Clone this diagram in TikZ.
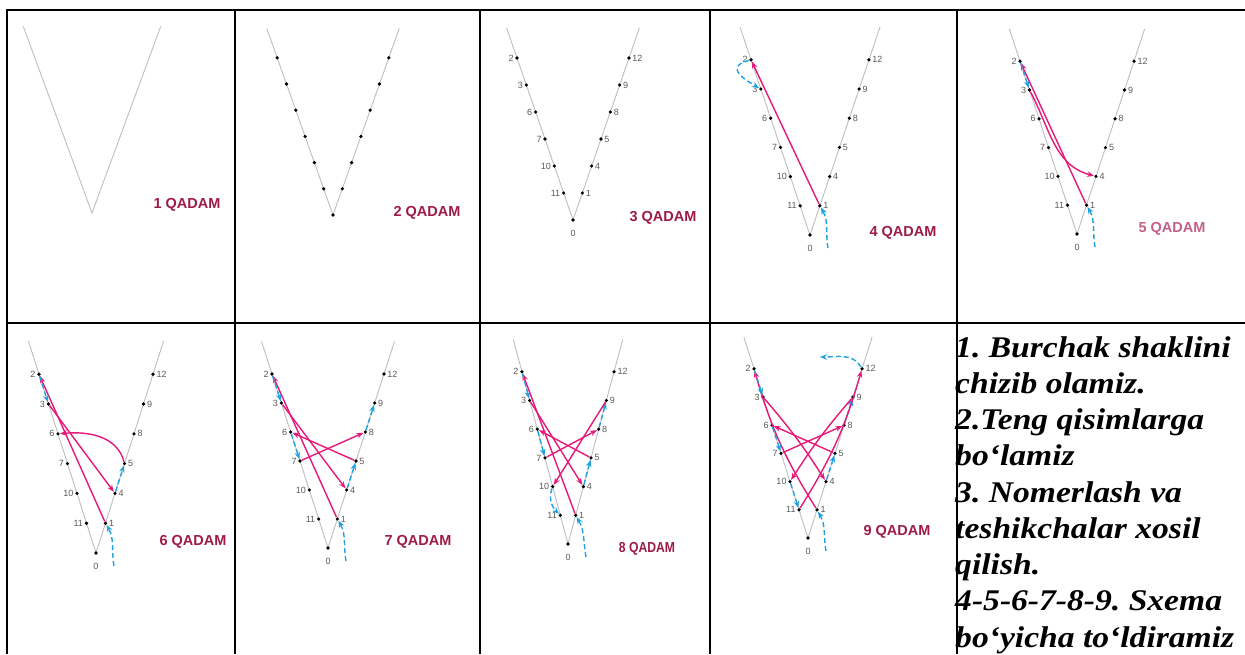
\documentclass[tikz,border=0pt]{standalone}
\usepackage{fontspec}
\setmainfont{Liberation Serif}
\newfontfamily\arialf{Liberation Sans}
\usetikzlibrary{arrows.meta}
\definecolor{mag}{RGB}{230,25,120}
\definecolor{sky}{RGB}{30,160,225}
\definecolor{vgray}{RGB}{190,190,190}
\definecolor{numgray}{RGB}{90,90,90}
\definecolor{qred}{RGB}{158,27,72}
\definecolor{qpink}{RGB}{196,96,134}
\tikzset{
 vline/.style={draw=vgray, line width=0.9pt},
 dot/.style={circle, fill=black, inner sep=0pt, minimum size=3.6pt},
 num/.style={font=\arialf\fontsize{9}{9}\selectfont, text=numgray, inner sep=0.3pt},
 qlabel/.style={font=\arialf\bfseries\fontsize{14.5}{14.5}\selectfont, text=qred, inner sep=0pt},
 marr/.style={draw=mag, line width=1.4pt, -{Stealth[length=7pt,width=5.5pt]}},
 barr/.style={draw=sky, line width=1.4pt, dash pattern=on 5pt off 3pt, -{Stealth[length=7pt,width=5.5pt]}},
 gridline/.style={draw=black, line width=2pt},
 body/.style={font=\bfseries\itshape\fontsize{30}{36}\selectfont\frenchspacing, anchor=base west, inner sep=0pt},
}
\newcommand\Bline[1]{\scalebox{1.12}[1]{#1}}
\newcommand\Vlines[5]{%
  \coordinate (#1-tl) at ({#2-7.12*#4},{-(#3-7.12*#5)});
  \coordinate (#1-tr) at ({#2+7.12*#4},{-(#3-7.12*#5)});
  \coordinate (#1-v) at (#2,-#3);
  \draw[vline] (#1-tl) -- (#1-v) -- (#1-tr);}
\newcommand\Vdots[5]{%
  \node[dot] (#1-0) at (#2,-#3) {};
  \foreach \n [count=\k] in {11,10,7,6,3,2}
    \node[dot] (#1-\n) at ({#2-\k*#4},{-#3+\k*#5}) {};
  \foreach \n [count=\k] in {1,4,5,8,9,12}
    \node[dot] (#1-\n) at ({#2+\k*#4},{-#3+\k*#5}) {};}
\newcommand\Vnums[1]{%
  \foreach \n in {11,10,7,6,3,2}
    \node[num, anchor=east] (#1-t\n) at ([xshift=-1pt]#1-\n.west) {\n};
  \foreach \n in {1,4,5,8,9,12}
    \node[num, anchor=west] (#1-t\n) at ([xshift=1pt]#1-\n.east) {\n};
  \node[num] (#1-t0) at ([yshift=-13pt]#1-0) {0};
  \coordinate (#1-s) at ([shift={(18pt,-13pt)}]#1-0);
  \draw[barr] (#1-s) to[out=100,in=-60] (#1-1);}
\newcommand\Vfull[5]{\Vlines{#1}{#2}{#3}{#4}{#5}\Vdots{#1}{#2}{#3}{#4}{#5}\Vnums{#1}}
\begin{document}
\begin{tikzpicture}[x=1pt,y=1pt]
\useasboundingbox (0,0) rectangle (1245,-654);
\fill[white] (0,0) rectangle (1245,-654);
% cell 1
\Vlines{c1}{92}{213}{9.65}{26.2}
\node[qlabel] (q1) at (187,-205) {1 QADAM};
% cell 2
\Vlines{c2}{333}{215}{9.3}{26.2}
\Vdots{c2}{333}{215}{9.3}{26.2}
\node[qlabel] (q2) at (427,-213) {2 QADAM};
% cell 3
\Vlines{c3}{573}{220}{9.33}{27}
\Vdots{c3}{573}{220}{9.33}{27}
\foreach \n in {11,10,7,6,3,2}
  \node[num, anchor=east] (c3-t\n) at ([xshift=-1pt]c3-\n.west) {\n};
\foreach \n in {1,4,5,8,9,12}
  \node[num, anchor=west] (c3-t\n) at ([xshift=1pt]c3-\n.east) {\n};
\node[num] (c3-t0) at ([yshift=-13pt]c3-0) {0};
\node[qlabel] (q3) at (663,-218) {3 QADAM};
% cell 4
\Vfull{c4}{810}{235}{9.83}{29.2}
\draw[marr] (c4-1) -- (c4-2);
\draw[barr] (c4-2) to[out=195,in=150,looseness=2] (c4-3);
\node[qlabel] (q4) at (903,-233) {4 QADAM};
% cell 5
\Vfull{c5}{1077}{234}{9.5}{28.8}
\draw[marr] (c5-1) -- (c5-2);
\draw[barr] (c5-2) -- (c5-3);
\draw[marr] (c5-3) to[out=-62,in=165] (c5-4);
\node[qlabel, text=qpink] (q5) at (1172,-229) {5 QADAM};
% cell 6
\Vfull{c6}{96}{553}{9.5}{29.8}
\draw[marr] (c6-1) -- (c6-2);
\draw[barr] (c6-2) -- (c6-3);
\draw[marr] (c6-3) -- (c6-4);
\draw[barr] (c6-4) -- (c6-5);
\draw[marr] (c6-5) to[out=105,in=5] (c6-6);
\node[qlabel] (q6) at (193,-542) {6 QADAM};
% cell 7
\Vfull{c7}{328}{548}{9.33}{29}
\draw[marr] (c7-1) -- (c7-2);
\draw[barr] (c7-2) -- (c7-3);
\draw[marr] (c7-3) -- (c7-4);
\draw[barr] (c7-4) -- (c7-5);
\draw[marr] (c7-5) -- (c7-6);
\draw[barr] (c7-6) -- (c7-7);
\draw[marr] (c7-7) -- (c7-8);
\draw[barr] (c7-8) -- (c7-9);
\node[qlabel] (q7) at (418,-542) {7 QADAM};
% cell 8
\Vfull{c8}{568}{544}{7.67}{28.7}
\draw[marr] (c8-1) -- (c8-2);
\draw[barr] (c8-2) -- (c8-3);
\draw[marr] (c8-3) -- (c8-4);
\draw[barr] (c8-4) -- (c8-5);
\draw[marr] (c8-5) -- (c8-6);
\draw[barr] (c8-6) -- (c8-7);
\draw[marr] (c8-7) -- (c8-8);
\draw[barr] (c8-8) -- (c8-9);
\draw[marr] (c8-9) -- (c8-10);
\draw[barr] (c8-10) to[out=250,in=135] (c8-11);
\node[qlabel] (q8) at (647,-549) {\scalebox{0.84}[1]{8 QADAM}};
% cell 9
\Vfull{c9}{808}{538}{9}{28.2}
\draw[marr] (c9-1) to[bend left=8] (c9-2);
\draw[barr] (c9-2) -- (c9-3);
\draw[marr] (c9-3) to[bend left=4] (c9-4);
\draw[barr] (c9-4) -- (c9-5);
\draw[marr] (c9-5) -- (c9-6);
\draw[barr] (c9-6) -- (c9-7);
\draw[marr] (c9-7) -- (c9-8);
\draw[barr] (c9-8) -- (c9-9);
\draw[marr] (c9-9) to[bend right=4] (c9-10);
\draw[barr] (c9-10) -- (c9-11);
\draw[marr] (c9-11) to[bend right=8] (c9-12);
\coordinate (c9-e) at (820,-357);
\draw[barr] (c9-12) to[out=120,in=0] (c9-e);
\node[qlabel] (q9) at (897,-532) {9 QADAM};
% text cell
\node[body] (t1) at (955,-357) {\Bline{1. Burchak shaklini}};
\node[body] (t2) at (955,-393.25) {\Bline{chizib olamiz.}};
\node[body] (t3) at (955,-429.5) {\Bline{2.Teng qisimlarga}};
\node[body] (t4) at (955,-465.75) {\Bline{bo‘lamiz}};
\node[body] (t5) at (955,-502) {\Bline{3. Nomerlash va}};
\node[body] (t6) at (955,-538.25) {\Bline{teshikchalar xosil}};
\node[body] (t7) at (955,-574.5) {\Bline{qilish.}};
\node[body] (t8) at (955,-610.75) {\Bline{4-5-6-7-8-9. Sxema}};
\node[body] (t9) at (955,-647) {\Bline{bo‘yicha to‘ldiramiz}};
% table
\draw[gridline] (6,-10) -- (1245,-10);
\draw[gridline] (6,-323) -- (1245,-323);
\foreach \x in {7,235,480,710,957}
  \draw[gridline] (\x,-10) -- (\x,-654);
\end{tikzpicture}
\end{document}
